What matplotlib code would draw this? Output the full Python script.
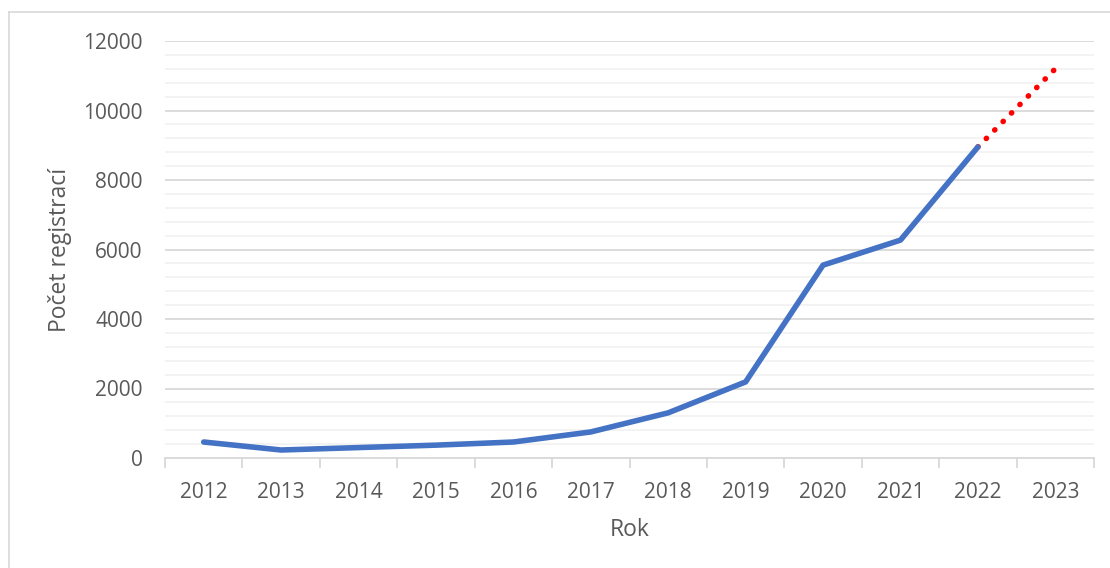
import matplotlib
matplotlib.use("Agg")
import matplotlib.pyplot as plt
from matplotlib.ticker import MultipleLocator, FixedLocator
from matplotlib.lines import Line2D

years = ["2012", "2013", "2014", "2015", "2016", "2017", "2018", "2019", "2020", "2021", "2022", "2023"]
registrations = [460, 230, 300, 370, 460, 750, 1300, 2190, 5550, 6270, 8950]
forecast_years = ["2022", "2023"]
forecast_values = [8950, 11200]

plt.rcParams['font.family'] = ['Open Sans', 'DejaVu Sans']
text_color = "#595959"

fig = plt.figure(figsize=(11.1, 5.68), dpi=100)
ax = fig.add_axes([165/1110, 110/568, 929/1110, 417/568])

x_main = [years.index(y) for y in years[:len(registrations)]]
x_fc = [years.index(y) for y in forecast_years]

ax.plot(x_fc, forecast_values, color="#ff0000", lw=4.0, linestyle=(0, (0.05, 2.1)),
        dash_capstyle="round", zorder=3)
ax.plot(x_main, registrations, color="#4472c4", lw=4.0, solid_capstyle="round",
        solid_joinstyle="round", zorder=4)

ax.set_xlim(-0.5, len(years) - 0.5)
ax.set_ylim(0, 12000)
ax.yaxis.set_major_locator(MultipleLocator(2000))
ax.yaxis.set_minor_locator(MultipleLocator(400))
ax.grid(which="major", axis="y", color="#d9d9d9", lw=1.3)
ax.grid(which="minor", axis="y", color="#f2f2f2", lw=1.3)
ax.set_axisbelow(True)

ax.set_xticks(range(len(years)))
ax.set_xticklabels(years)
ax.xaxis.set_minor_locator(FixedLocator([i - 0.5 for i in range(len(years) + 1)]))
ax.tick_params(axis="x", which="major", length=0, pad=17, labelsize=15, labelcolor=text_color)
ax.tick_params(axis="x", which="minor", length=7, width=1.3, color="#d9d9d9")
ax.tick_params(axis="y", which="both", length=0, pad=16, labelsize=15, labelcolor=text_color)

for s in ["top", "right", "left"]:
    ax.spines[s].set_visible(False)
ax.spines["bottom"].set_color("#d9d9d9")
ax.spines["bottom"].set_linewidth(1.3)

ax.set_xlabel("Rok", fontsize=16.5, color=text_color, labelpad=11)
ax.set_ylabel("Počet registrací", fontsize=16.5, color=text_color, labelpad=8)

# outer chart border (left and top visible)
fig.add_artist(Line2D([8.5/1110, 8.5/1110], [0, 1 - 12/568], transform=fig.transFigure,
                      color="#d9d9d9", lw=1.2))
fig.add_artist(Line2D([8.5/1110, 1], [1 - 12/568, 1 - 12/568], transform=fig.transFigure,
                      color="#d9d9d9", lw=1.2))

fig.savefig("out.png", dpi=100)
